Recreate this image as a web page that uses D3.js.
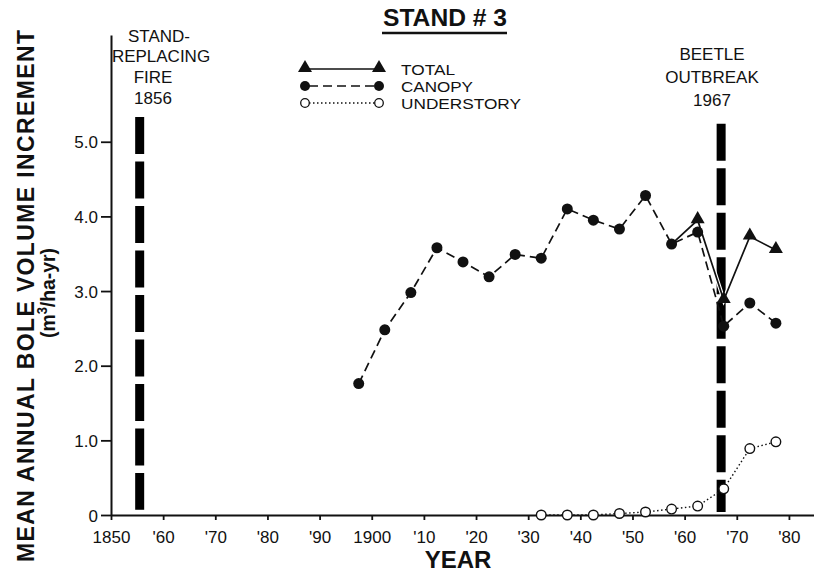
<!DOCTYPE html>
<html>
<head>
<meta charset="utf-8">
<script src="https://cdn.jsdelivr.net/npm/d3@7"></script>
<style>
  body { margin: 0; background: #fff; }
  svg { display: block; }
  text { font-family: "Liberation Sans", Arial, sans-serif; fill: #111; }
</style>
</head>
<body>
<svg id="chart" width="814" height="573"></svg>
<script>
// ---- data ----
const canopyYears = [1897.5, 1902.5, 1907.5, 1912.5, 1917.5, 1922.5, 1927.5, 1932.5, 1937.5, 1942.5, 1947.5, 1952.5, 1957.5, 1962.5, 1967.5, 1972.5, 1977.5];
const canopyValues = [1.76, 2.48, 2.98, 3.58, 3.39, 3.19, 3.49, 3.44, 4.10, 3.95, 3.83, 4.28, 3.63, 3.79, 2.53, 2.84, 2.57];

const totalYears = [1957.5, 1962.5, 1967.5, 1972.5, 1977.5];
const totalValues = [3.63, 3.95, 2.88, 3.73, 3.55];

const underYears = [1932.5, 1937.5, 1942.5, 1947.5, 1952.5, 1957.5, 1962.5, 1967.5, 1972.5, 1977.5];
const underValues = [0.0, 0.0, 0.0, 0.02, 0.04, 0.08, 0.12, 0.35, 0.89, 0.98];

const xTickYears = [1850, 1860, 1870, 1880, 1890, 1900, 1910, 1920, 1930, 1940, 1950, 1960, 1970, 1980];
const xTickLabels = ["1850", "'60", "'70", "'80", "'90", "1900", "'10", "'20", "'30", "'40", "'50", "'60", "'70", "'80"];
const yTickValues = [0, 1, 2, 3, 4, 5];
const yTickLabels = ["0", "1.0", "2.0", "3.0", "4.0", "5.0"];

const eventYears = [1855.5, 1967];
const eventTop = [5.33, 5.24];
const eventBottom = [0.07, 0.04];

const legendNames = ["TOTAL", "CANOPY", "UNDERSTORY"];

// ---- scales ----
const svg = d3.select("#chart");
const x = d3.scaleLinear().domain([1850, 1985]).range([111, 815]);
const y = d3.scaleLinear().domain([0, 6.43]).range([515, 35]);

const tickFont = "17px";

// ---- axes ----
const xAxis = d3.axisBottom(x)
  .tickValues(xTickYears)
  .tickFormat((d, i) => xTickLabels[i])
  .tickSize(5).tickSizeOuter(0);
const gx = svg.append("g").attr("transform", `translate(0,${y(0)})`).call(xAxis);
gx.select(".domain").attr("stroke", "#111").attr("stroke-width", 2);
gx.selectAll(".tick line").attr("stroke", "#111").attr("stroke-width", 1.8);
gx.selectAll(".tick text").attr("y", 28).attr("dy", 0)
  .style("font-size", tickFont).style("font-family", "Liberation Sans, Arial, sans-serif").attr("fill", "#111");

const yAxis = d3.axisLeft(y)
  .tickValues(yTickValues)
  .tickFormat((d, i) => yTickLabels[i])
  .tickSize(10).tickPadding(3).tickSizeOuter(0);
const gy = svg.append("g").attr("transform", `translate(${x(1850)},0)`).call(yAxis);
gy.select(".domain").attr("stroke", "#111").attr("stroke-width", 2);
gy.selectAll(".tick line").attr("stroke", "#111").attr("stroke-width", 1.8);
gy.selectAll(".tick text").attr("dy", "0.36em")
  .style("font-size", tickFont).style("font-family", "Liberation Sans, Arial, sans-serif").attr("fill", "#111");

// ---- event bars ----
svg.append("g").selectAll("line").data(eventYears).join("line")
  .attr("x1", d => x(d)).attr("x2", d => x(d))
  .attr("y1", (d, i) => y(eventTop[i])).attr("y2", (d, i) => y(eventBottom[i]))
  .attr("stroke", "#000").attr("stroke-width", 9)
  .attr("stroke-dasharray", "37,7.5");

// ---- lines ----
const lineGen = d3.line().x(d => x(d[0])).y(d => y(d[1]));
const totalPts = totalYears.map((d, i) => [d, totalValues[i]]);
const canopyPts = canopyYears.map((d, i) => [d, canopyValues[i]]);
const underPts = underYears.map((d, i) => [d, underValues[i]]);

svg.append("path").datum(underPts).attr("d", lineGen)
  .attr("fill", "none").attr("stroke", "#111").attr("stroke-width", 1.4)
  .attr("stroke-dasharray", "1.5,2.5");
svg.append("path").datum(totalPts).attr("d", lineGen)
  .attr("fill", "none").attr("stroke", "#fff").attr("stroke-width", 4);
svg.append("path").datum(totalPts).attr("d", lineGen)
  .attr("fill", "none").attr("stroke", "#111").attr("stroke-width", 1.7);
svg.append("path").datum(canopyPts).attr("d", lineGen)
  .attr("fill", "none").attr("stroke", "#111").attr("stroke-width", 1.7)
  .attr("stroke-dasharray", "9,5");

// ---- markers ----
const tri = d3.symbol().type(d3.symbolTriangle).size(85);
svg.append("g").selectAll("path").data(totalPts.slice(1)).join("path")
  .attr("d", tri)
  .attr("transform", d => `translate(${x(d[0])},${y(d[1]) - 1})`)
  .attr("fill", "#111");
svg.append("g").selectAll("circle").data(canopyPts).join("circle")
  .attr("cx", d => x(d[0])).attr("cy", d => y(d[1])).attr("r", 5.5)
  .attr("fill", "#111");
svg.append("g").selectAll("circle").data(underPts).join("circle")
  .attr("cx", d => x(d[0])).attr("cy", d => y(d[1])).attr("r", 4.8)
  .attr("fill", "#fff").attr("stroke", "#111").attr("stroke-width", 1.4);

// ---- legend ----
const lg = svg.append("g");
const legX1 = 305, legX2 = 379, legText = 401;
const legY = [69, 86, 103];
const legBase = [75, 92, 109];
const legWidths = [54, 72, 120];
lg.append("line").attr("x1", legX1).attr("x2", legX2).attr("y1", legY[0]).attr("y2", legY[0])
  .attr("stroke", "#111").attr("stroke-width", 1.7);
[legX1, legX2].forEach(px => lg.append("path").attr("d", tri)
  .attr("transform", `translate(${px},${legY[0] - 1})`).attr("fill", "#111"));
lg.append("line").attr("x1", legX1).attr("x2", legX2).attr("y1", legY[1]).attr("y2", legY[1])
  .attr("stroke", "#111").attr("stroke-width", 1.7).attr("stroke-dasharray", "9,5").attr("stroke-dashoffset", -4);
[legX1, legX2].forEach(px => lg.append("circle").attr("cx", px).attr("cy", legY[1]).attr("r", 5).attr("fill", "#111"));
lg.append("line").attr("x1", legX1).attr("x2", legX2).attr("y1", legY[2]).attr("y2", legY[2])
  .attr("stroke", "#111").attr("stroke-width", 1.3).attr("stroke-dasharray", "1.5,2.5");
[legX1, legX2].forEach(px => lg.append("circle").attr("cx", px).attr("cy", legY[2]).attr("r", 4.3)
  .attr("fill", "#fff").attr("stroke", "#111").attr("stroke-width", 1.3));
lg.selectAll("text.lt").data(legendNames).join("text").attr("class", "lt")
  .attr("x", legText).attr("y", (d, i) => legBase[i])
  .attr("textLength", (d, i) => legWidths[i]).attr("lengthAdjust", "spacingAndGlyphs")
  .style("font-size", "15px").text(d => d);

// ---- annotations ----
const fireLines = ["STAND-", "REPLACING", "FIRE", "1856"];
const fireX = [159, 161, 153, 153];
const fireBase = [42, 62, 83, 104];
svg.append("g").selectAll("text").data(fireLines).join("text")
  .attr("x", (d, i) => fireX[i]).attr("y", (d, i) => fireBase[i])
  .attr("text-anchor", "middle").style("font-size", "17px").text(d => d);

const beetleLines = ["BEETLE", "OUTBREAK", "1967"];
const beetleBase = [60, 83, 106];
svg.append("g").selectAll("text").data(beetleLines).join("text")
  .attr("x", 712).attr("y", (d, i) => beetleBase[i])
  .attr("text-anchor", "middle").style("font-size", "17px").text(d => d);

// ---- title ----
svg.append("text").attr("x", 445).attr("y", 26).attr("text-anchor", "middle")
  .style("font-size", "24px").style("font-weight", "bold")
  .attr("textLength", 124).attr("lengthAdjust", "spacingAndGlyphs")
  .text("STAND # 3");
svg.append("line").attr("x1", 382).attr("x2", 507).attr("y1", 33).attr("y2", 33)
  .attr("stroke", "#111").attr("stroke-width", 2.4);

// ---- axis titles ----
svg.append("text").attr("x", 458).attr("y", 568).attr("text-anchor", "middle")
  .style("font-size", "24px").style("font-weight", "bold").text("YEAR");

svg.append("text").attr("transform", "translate(34,296) rotate(-90)")
  .attr("text-anchor", "middle").style("font-size", "23px").style("font-weight", "bold")
  .attr("textLength", 532).attr("lengthAdjust", "spacing")
  .text("MEAN ANNUAL BOLE VOLUME INCREMENT");

const sub = svg.append("text").attr("transform", "translate(55,293) rotate(-90)")
  .attr("text-anchor", "middle").style("font-size", "21px").style("font-weight", "bold")
  .attr("textLength", 90).attr("lengthAdjust", "spacingAndGlyphs");
sub.append("tspan").text("(m");
sub.append("tspan").attr("dy", -8).style("font-size", "14px").text("3");
sub.append("tspan").attr("dy", 8).text("/ha-yr)");
</script>
</body>
</html>
